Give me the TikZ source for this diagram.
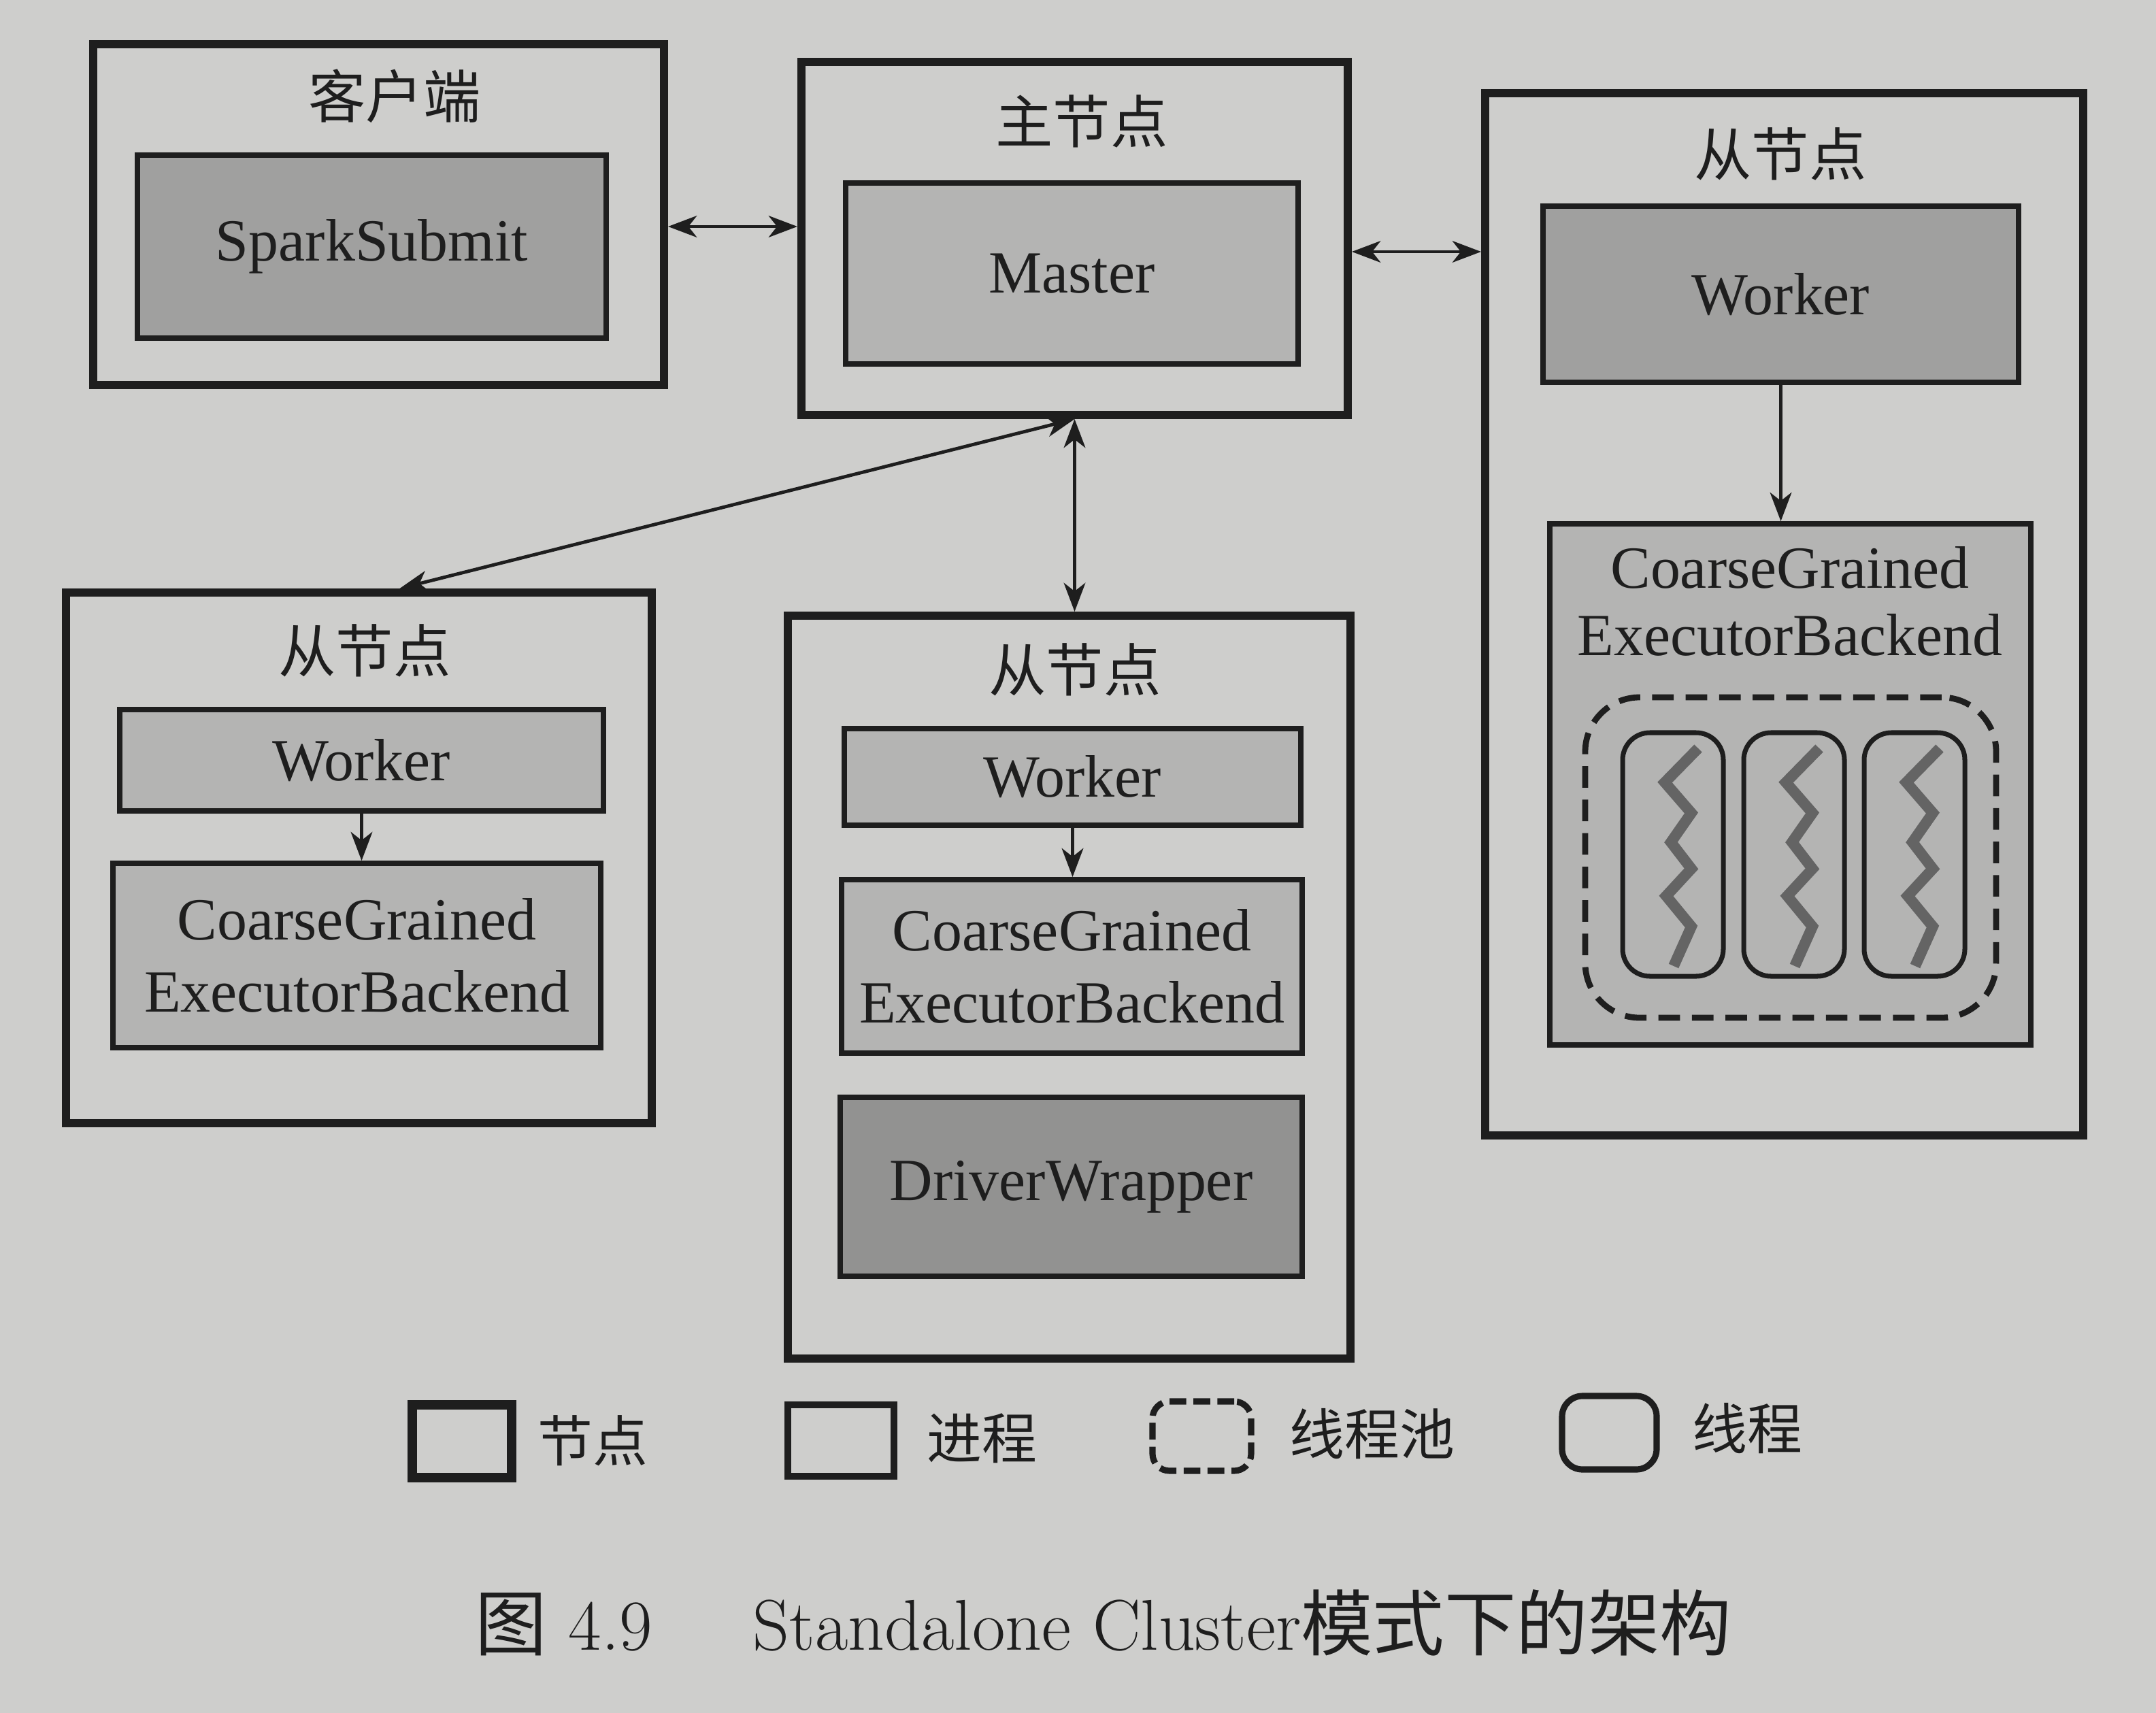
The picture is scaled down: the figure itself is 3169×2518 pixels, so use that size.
\documentclass[tikz,border=0pt]{standalone}
\usepackage{fontspec}
\newfontfamily\cjk{Noto Sans CJK SC}
\newfontfamily\tms{Liberation Serif}
\usetikzlibrary{arrows.meta,fit,calc}
\definecolor{paper}{RGB}{206,206,204}
\definecolor{ink}{RGB}{30,30,30}
\definecolor{fillA}{RGB}{180,180,179}
\definecolor{fillB}{RGB}{160,160,159}
\definecolor{fillC}{RGB}{146,146,145}
\definecolor{zigc}{RGB}{100,100,100}
\begin{document}
\begin{tikzpicture}[x=0.01cm,y=-0.01cm,
  nodebox/.style={draw=ink, line width=3.4pt, inner sep=0pt},
  procbox/.style={draw=ink, line width=2.2pt, inner sep=0pt, fill=fillA},
  boxtxt/.style={font=\tms\fontsize{25}{30}\selectfont, align=center, text=ink, inner sep=0pt},
  lbl/.style={font=\cjk\fontsize{24}{28}\selectfont, text=ink, inner sep=0pt},
  legtxt/.style={font=\cjk\fontsize{23}{27}\selectfont, text=ink, inner sep=0pt, anchor=west},
  tip/.tip={Stealth[length=12pt,width=9pt,inset=3.5pt]},
  biconn/.style={draw=ink, line width=1.4pt, {tip}-{tip}},
  oneconn/.style={draw=ink, line width=1.4pt, -{tip}},
  poolbox/.style={draw=ink, line width=2.5pt, dash pattern=on 9pt off 5pt, rounded corners=0.8cm, inner sep=0pt},
  threadbox/.style={draw=ink, line width=2pt, rounded corners=0.4cm, inner sep=0pt},
  zig/.style={draw=zigc, line width=4.5pt, line join=miter}
]
\useasboundingbox (0,0) rectangle (3169,2518);
\fill[paper] (0,0) rectangle (3169,2518);

% client
\node[nodebox, fit={(137,65) (976,566)}] (client) {};
\node[lbl] (clientlbl) at (580,141) {客户端};
\node[procbox, fill=fillB, fit={(202,228) (891,497)}] (ss) {};
\node[boxtxt] (sst) at (ss.center) {SparkSubmit};

% master
\node[nodebox, fit={(1178,91) (1981,610)}] (master) {};
\node[lbl] (masterlbl) at (1590,178) {主节点};
\node[procbox, fit={(1243,269) (1908,535)}] (mst) {};
\node[boxtxt] (mstt) at (mst.center) {Master};

% right slave
\node[nodebox, fit={(2183,137) (3062,1669)}] (rslave) {};
\node[lbl] (rlbl) at (2617,226) {从节点};
\node[procbox, fill=fillB, fit={(2268,303) (2967,562)}] (rw) {};
\node[boxtxt] (rwt) at (rw.center) {Worker};
\node[procbox, fit={(2278,770) (2985,1536)}] (rc) {};
\node[boxtxt, font=\tms\fontsize{25}{28}\selectfont] (rctext) at (2631,884) {CoarseGrained\\ExecutorBackend};
\node[poolbox, fit={(2330,1025) (2934,1496)}] (pool) {};
\foreach \x/\i in {2385/1,2563/2,2740/3}{
  \node[threadbox, fit={(\x,1077) (\x+148,1435)}] (t\i) {};
  \draw[zig] (\x+111,1100) -- (\x+62,1150) -- (\x+101,1195) -- (\x+71,1238)
    -- (\x+101,1277) -- (\x+64,1317) -- (\x+101,1362) -- (\x+75,1420);
}

% left slave
\node[nodebox, fit={(97,871) (958,1651)}] (lslave) {};
\node[lbl] (llbl) at (536,956) {从节点};
\node[procbox, fit={(176,1043) (887,1192)}] (lw) {};
\node[boxtxt] (lwt) at (lw.center) {Worker};
\node[procbox, fit={(166,1269) (883,1540)}] (lc) {};
\node[boxtxt] (lct) at (lc.center) {CoarseGrained\\ExecutorBackend};

% middle slave
\node[nodebox, fit={(1158,905) (1985,1997)}] (mslave) {};
\node[lbl] (mlbl) at (1580,984) {从节点};
\node[procbox, fit={(1241,1071) (1912,1213)}] (mw) {};
\node[boxtxt] (mwt) at (mw.center) {Worker};
\node[procbox, fit={(1237,1293) (1914,1548)}] (mc) {};
\node[boxtxt] (mct) at (mc.center) {CoarseGrained\\ExecutorBackend};
\node[procbox, fill=fillC, fit={(1235,1613) (1914,1876)}] (dw) {};
\node[boxtxt] (dwt) at (dw.center) {DriverWrapper};

% connectors
\coordinate (yA) at (0,333);
\coordinate (yB) at (0,370);
\draw[biconn] (client.east |- yA) -- (master.west |- yA);
\draw[biconn] (master.east |- yB) -- (rslave.west |- yB);
\draw[biconn] (master.south) -- (master.south |- mslave.north);
\draw[biconn] (master.south) -- ($(lslave.north)+(60,0)$);
\draw[oneconn] (rw.south) -- (rw.south |- rc.north);
\draw[oneconn] (lw.south) -- (lw.south |- lc.north);
\draw[oneconn] (mw.south) -- (mw.south |- mc.north);

% legend
\node[draw=ink, line width=4pt, inner sep=0pt, fit={(606,2065) (752,2172)}] (legnode) {};
\node[legtxt] (legnodet) at (790,2118) {节点};
\node[draw=ink, line width=2.6pt, inner sep=0pt, fit={(1158,2065) (1314,2170)}] (legproc) {};
\node[legtxt] (legproct) at (1362,2114) {进程};
\node[draw=ink, line width=2.6pt, dash pattern=on 7pt off 3pt, rounded corners=0.25cm, inner sep=0pt, fit={(1694,2060) (1839,2162)}] (legpool) {};
\node[legtxt] (legpoolt) at (1895,2108) {线程池};
\node[draw=ink, line width=2.6pt, rounded corners=0.3cm, inner sep=0pt, fit={(2296,2052) (2435,2160)}] (legthr) {};
\node[legtxt] (legthrt) at (2487,2100) {线程};

% caption
\node[font=\fontsize{30}{34}\selectfont, text=ink, inner sep=0pt] (cap) at (1622,2385)
  {{\cjk 图} 4.9\hspace{1.4em}Standalone Cluster{\cjk 模式下的架构}};
\end{tikzpicture}
\end{document}
